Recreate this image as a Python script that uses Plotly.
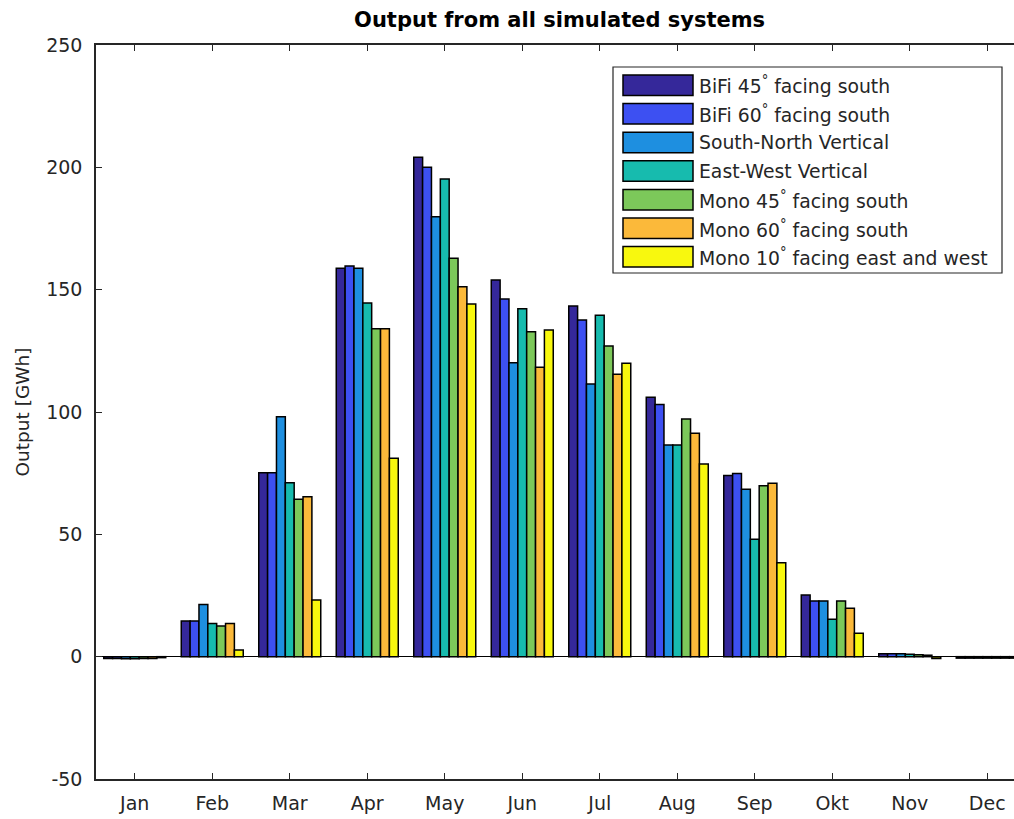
import plotly.graph_objects as go

# Monthly output per simulated system [GWh]
months = ["Jan", "Feb", "Mar", "Apr", "May", "Jun", "Jul", "Aug", "Sep", "Okt", "Nov", "Dec"]

bifi_45_south = [-0.8, 14.6, 75.2, 158.8, 204.1, 153.9, 143.3, 106.0, 74.0, 25.2, 1.2, -0.6]
bifi_60_south = [-0.8, 14.6, 75.2, 159.7, 200.0, 146.2, 137.6, 103.1, 74.9, 22.8, 1.2, -0.6]
south_north_vertical = [-0.9, 21.3, 98.1, 158.8, 179.8, 120.1, 111.4, 86.5, 68.4, 22.8, 1.2, -0.6]
east_west_vertical = [-0.9, 13.6, 71.1, 144.5, 195.2, 142.2, 139.5, 86.5, 48.0, 15.3, 1.0, -0.6]
mono_45_south = [-0.7, 12.5, 64.3, 134.0, 162.8, 132.8, 127.0, 97.1, 69.9, 22.8, 0.8, -0.6]
mono_60_south = [-0.7, 13.6, 65.4, 134.0, 151.2, 118.3, 115.4, 91.3, 70.9, 19.8, 0.6, -0.6]
mono_10_east_west = [-0.4, 2.7, 23.2, 81.1, 144.1, 133.5, 119.9, 78.7, 38.4, 9.6, -0.8, -0.6]

series_names = [
    "BiFi 45<sup>°</sup> facing south",
    "BiFi 60<sup>°</sup> facing south",
    "South-North Vertical",
    "East-West Vertical",
    "Mono 45<sup>°</sup> facing south",
    "Mono 60<sup>°</sup> facing south",
    "Mono 10<sup>°</sup> facing east and west",
]
series_values = [
    bifi_45_south, bifi_60_south, south_north_vertical, east_west_vertical,
    mono_45_south, mono_60_south, mono_10_east_west,
]
series_colors = ["#35289A", "#3D50F2", "#1E8FE0", "#17BBAE", "#7CC85A", "#FBB93A", "#F8F80E"]

y_ticks = [-50, 0, 50, 100, 150, 200, 250]
y_tick_text = ["-50", "0", "50", "100", "150", "200", "250"]

FONT = "DejaVu Sans, Verdana, sans-serif"
TEXT = "#262626"

x_pos = list(range(1, len(months) + 1))

fig = go.Figure()
for name, vals, col in zip(series_names, series_values, series_colors):
    fig.add_trace(go.Bar(
        x=x_pos, y=vals, name=name,
        marker=dict(color=col, line=dict(color="black", width=1.5)),
        showlegend=False,
    ))

fig.update_layout(
    width=1014, height=819,
    margin=dict(l=96, r=0, t=45, b=40),
    paper_bgcolor="white", plot_bgcolor="white",
    barmode="group", bargap=0.2, bargroupgap=0,
    font=dict(family=FONT, size=19, color=TEXT),
    title=dict(
        text="<b>Output from all simulated systems</b>",
        x=0.505, xref="paper", xanchor="center",
        y=1 - 20 / 819, yref="container", yanchor="middle",
        font=dict(family=FONT, size=21, color="black"),
    ),
)

fig.update_xaxes(
    range=[0.5, 12.345],
    tickmode="array", tickvals=x_pos, ticktext=months,
    showline=True, linecolor=TEXT, linewidth=1.5, mirror="ticks",
    ticks="inside", ticklen=6, tickwidth=1.2, tickcolor=TEXT,
    showgrid=False, zeroline=False,
    ticklabelstandoff=6,
    tickfont=dict(family=FONT, size=19, color=TEXT),
)
fig.update_yaxes(
    range=[-50, 250],
    tickmode="array", tickvals=y_ticks, ticktext=y_tick_text,
    showline=True, linecolor=TEXT, linewidth=1.5,
    ticks="inside", ticklen=6, tickwidth=1.2, tickcolor=TEXT,
    showgrid=False,
    zeroline=True, zerolinecolor="black", zerolinewidth=1.2,
    ticklabelstandoff=8,
    tickfont=dict(family=FONT, size=19, color=TEXT),
    title=dict(text="Output [GWh]", standoff=12, font=dict(family=FONT, size=18.5, color=TEXT)),
)

# Legend box with large MATLAB-style swatches, positioned in paper space
dom_w = 1014 - 96
dom_h = 819 - 45 - 40


def px_x(p):
    return (p - 96) / dom_w


def px_y(p):
    return 1 - (p - 45) / dom_h


fig.add_shape(type="rect", xref="paper", yref="paper",
              x0=px_x(613), x1=px_x(1002), y0=px_y(273), y1=px_y(67),
              line=dict(color=TEXT, width=1.2), fillcolor="white", layer="above")
row_top = 75
row_step = 28.6
for i, (name, col) in enumerate(zip(series_names, series_colors)):
    top = row_top + i * row_step
    fig.add_shape(type="rect", xref="paper", yref="paper",
                  x0=px_x(623), x1=px_x(693), y0=px_y(top + 20.5), y1=px_y(top),
                  line=dict(color="black", width=1.5), fillcolor=col, layer="above")
    fig.add_annotation(xref="paper", yref="paper",
                       x=px_x(697), y=px_y(top + 10.5),
                       text=name, showarrow=False, xanchor="left", yanchor="middle",
                       font=dict(family=FONT, size=18.8, color=TEXT))

fig.write_html("out.html")
